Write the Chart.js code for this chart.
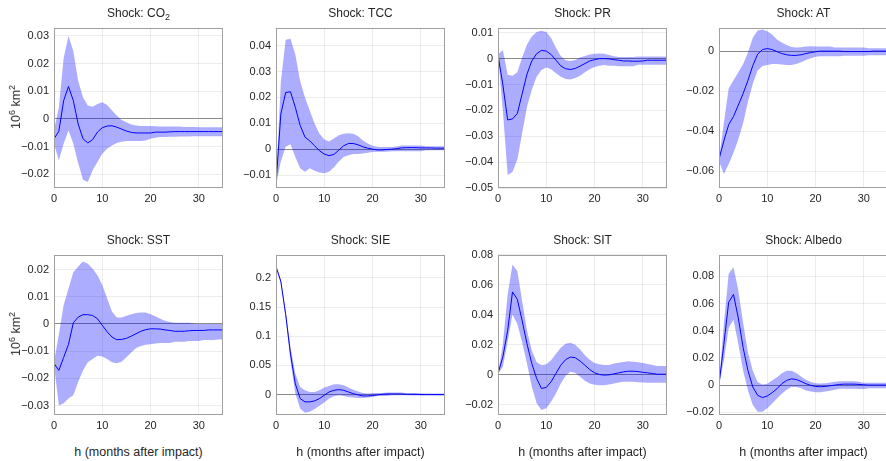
<!DOCTYPE html>
<html lang="en">
<head>
<meta charset="UTF-8">
<script src="https://cdn.jsdelivr.net/npm/chart.js"></script>
<title>Impulse responses</title>
<style>
    body { margin: 0; width: 886px; height: 461px; overflow: hidden; background: #fff; font-family: "Liberation Sans", Arial, sans-serif; color: #262626; }
    canvas { position: absolute; }
    .title { position: absolute; width: 169px; text-align: center; font-size: 12px; color: #262626; }
    .ylab { position: absolute; font-size: 12.5px; color: #262626; transform: translate(-50%, -50%) rotate(-90deg); white-space: nowrap; }
    .xlab { position: absolute; width: 169px; text-align: center; font-size: 12.5px; color: #262626; }
</style>
</head>
<body>
<div id="wrap"></div>

<script>
// horizon in months
const h = [];
for (let i = 0; i <= 35; i++) h.push(i);

const titles = ['Shock: CO<sub style="font-size:9px">2</sub>', 'Shock: TCC', 'Shock: PR', 'Shock: AT',
                'Shock: SST', 'Shock: SIE', 'Shock: SIT', 'Shock: Albedo'];

// y axis ranges and tick steps
const yMin  = [-0.025, -0.015, -0.05, -0.0685, -0.0335, -0.035, -0.027, -0.022];
const yMax  = [0.033, 0.047, 0.012, 0.0118, 0.0255, 0.24, 0.08, 0.096];
const yStep = [0.01, 0.01, 0.01, 0.02, 0.01, 0.05, 0.02, 0.02];

// CO2
const co2Mean = [-0.0072, -0.0045, 0.0066, 0.0117, 0.0066, -0.0018, -0.0072, -0.0087, -0.0075, -0.0048, -0.0032, -0.0026, -0.0025, -0.003, -0.0037, -0.0044, -0.0049, -0.0051, -0.0051, -0.0051, -0.0051, -0.0048, -0.0048, -0.0048, -0.0047, -0.0046, -0.0046, -0.0046, -0.0046, -0.0046, -0.0046, -0.0046, -0.0046, -0.0046, -0.0046, -0.0046];
const co2Up   = [-0.004, 0.004, 0.022, 0.030, 0.0245, 0.0138, 0.0078, 0.0048, 0.0044, 0.0054, 0.006, 0.005, 0.003, 0.0012, -0.0004, -0.0012, -0.002, -0.0024, -0.0026, -0.0026, -0.0026, -0.0027, -0.0028, -0.0028, -0.0028, -0.0028, -0.0028, -0.0029, -0.0029, -0.0029, -0.003, -0.003, -0.003, -0.003, -0.003, -0.003];
const co2Lo   = [-0.009, -0.015, -0.009, -0.0042, -0.009, -0.016, -0.022, -0.0228, -0.0186, -0.0156, -0.0126, -0.0108, -0.0096, -0.0087, -0.0083, -0.008, -0.008, -0.008, -0.008, -0.0078, -0.0072, -0.0068, -0.0066, -0.0066, -0.0065, -0.0065, -0.0064, -0.0064, -0.0064, -0.0063, -0.0063, -0.0063, -0.0063, -0.0063, -0.0063, -0.0063];

// TCC
const tccMean = [-0.0135, 0.0136, 0.0219, 0.0222, 0.0162, 0.0092, 0.0047, 0.0032, 0.0013, -0.0006, -0.0019, -0.0025, -0.002, -0.0004, 0.0013, 0.0022, 0.0022, 0.0017, 0.0009, 0.0004, 0, -0.0003, -0.0003, -0.0001, 0, 0.0002, 0.0005, 0.0006, 0.0006, 0.0006, 0.0005, 0.0005, 0.0005, 0.0004, 0.0004, 0.0004];
const tccUp   = [-0.013, 0.026, 0.0423, 0.0427, 0.0366, 0.0264, 0.02, 0.0149, 0.0098, 0.006, 0.0037, 0.003, 0.0041, 0.0054, 0.006, 0.0062, 0.006, 0.005, 0.0034, 0.0022, 0.0013, 0.0009, 0.0008, 0.0008, 0.0008, 0.001, 0.0014, 0.0014, 0.0014, 0.0014, 0.0014, 0.0011, 0.0011, 0.0011, 0.0011, 0.0011];
const tccLo   = [-0.014, -0.0048, 0.0009, 0.0019, -0.003, -0.0074, -0.0087, -0.0074, -0.0083, -0.009, -0.0093, -0.0087, -0.007, -0.0048, -0.003, -0.0023, -0.0019, -0.0019, -0.0017, -0.0014, -0.0011, -0.001, -0.001, -0.001, -0.0008, -0.0008, -0.0008, -0.0008, -0.0008, -0.0008, -0.0008, -0.0004, -0.0004, -0.0004, -0.0004, -0.0004];

// PR
const prMean = [0.0014, -0.010, -0.0237, -0.0233, -0.0212, -0.0136, -0.006, -0.0009, 0.0019, 0.0032, 0.0029, 0.0016, -0.0006, -0.0028, -0.0039, -0.0042, -0.0038, -0.0029, -0.0019, -0.0009, -0.0004, 0, 0, -0.0001, -0.0004, -0.0006, -0.0009, -0.0009, -0.001, -0.001, -0.0009, -0.0006, -0.0006, -0.0006, -0.0006, -0.0006];
const prUp   = [0.0016, 0.0033, -0.0062, -0.0066, -0.0053, 0.0004, 0.0055, 0.0086, 0.0103, 0.0108, 0.0103, 0.008, 0.0042, 0.001, -0.0006, -0.0009, -0.0005, 0.0004, 0.001, 0.0016, 0.0019, 0.002, 0.0019, 0.0014, 0.0009, 0.0006, 0.0006, 0.0006, 0.0006, 0.0008, 0.0008, 0.0008, 0.0008, 0.0008, 0.0008, 0.0008];
const prLo   = [0.001, -0.02, -0.045, -0.0438, -0.039, -0.0288, -0.0187, -0.012, -0.007, -0.0044, -0.0034, -0.0041, -0.0056, -0.007, -0.0079, -0.0081, -0.0075, -0.0066, -0.0053, -0.0041, -0.0032, -0.0027, -0.0025, -0.0027, -0.0027, -0.0029, -0.0029, -0.0029, -0.0029, -0.0024, -0.0024, -0.0024, -0.0024, -0.0024, -0.0024, -0.0024];

// AT
const atMean = [-0.0541, -0.045, -0.0368, -0.0327, -0.027, -0.0212, -0.0146, -0.0072, -0.0015, 0.0008, 0.0013, 0.0008, -0.0002, -0.0012, -0.0018, -0.0021, -0.0021, -0.0018, -0.0012, -0.0007, -0.0003, 0, 0, 0, 0, 0, -0.0002, -0.0002, -0.0002, -0.0002, -0.0002, -0.0002, 0, 0, 0, 0];
const atUp   = [-0.054, -0.036, -0.0187, -0.0146, -0.0105, -0.0064, -0.0007, 0.0067, 0.0104, 0.0109, 0.01, 0.0084, 0.0059, 0.0043, 0.0031, 0.0021, 0.0018, 0.002, 0.0023, 0.0025, 0.0023, 0.0023, 0.0023, 0.0023, 0.0018, 0.0018, 0.0018, 0.0018, 0.0018, 0.0018, 0.0018, 0.0015, 0.0015, 0.0015, 0.0015, 0.0015];
const atLo   = [-0.055, -0.0615, -0.0566, -0.0508, -0.0442, -0.036, -0.0253, -0.0163, -0.0097, -0.0074, -0.0069, -0.0064, -0.0064, -0.0067, -0.0069, -0.0069, -0.0064, -0.0056, -0.0044, -0.0035, -0.0028, -0.0025, -0.0025, -0.0025, -0.0025, -0.0025, -0.0023, -0.0023, -0.0023, -0.0023, -0.0023, -0.002, -0.002, -0.002, -0.002, -0.002];

// SST
const sstMean = [-0.0145, -0.0171, -0.0123, -0.0075, 0.0004, 0.0025, 0.0034, 0.0034, 0.0031, 0.0019, -0.0005, -0.0029, -0.0048, -0.0058, -0.0057, -0.0053, -0.0045, -0.0036, -0.0027, -0.0021, -0.0018, -0.0018, -0.0019, -0.0022, -0.0024, -0.0027, -0.0027, -0.0027, -0.0025, -0.0024, -0.0024, -0.0024, -0.0022, -0.0022, -0.0022, -0.0022];
const sstUp   = [-0.014, -0.004, 0.007, 0.013, 0.019, 0.0211, 0.023, 0.0221, 0.0203, 0.0179, 0.0143, 0.0094, 0.0046, 0.0024, 0.0024, 0.003, 0.0036, 0.004, 0.0042, 0.0042, 0.0036, 0.0028, 0.0019, 0.0012, 0.0007, 0.0004, 0.0004, 0.0004, 0.0004, 0.0001, 0, 0, 0, 0, 0, 0];
const sstLo   = [-0.015, -0.030, -0.0292, -0.0274, -0.0262, -0.0214, -0.0171, -0.0141, -0.0129, -0.0117, -0.012, -0.0129, -0.0141, -0.0145, -0.0139, -0.0123, -0.0105, -0.0089, -0.0081, -0.0077, -0.0075, -0.0072, -0.007, -0.007, -0.007, -0.0066, -0.0066, -0.0066, -0.0063, -0.0063, -0.0063, -0.0059, -0.0059, -0.0059, -0.0057, -0.0057];

// SIE
const sieMean = [0.2197, 0.194, 0.1376, 0.0696, 0.0187, -0.0068, -0.0125, -0.0125, -0.0108, -0.0068, -0.0011, 0.0045, 0.0074, 0.0085, 0.0074, 0.0045, 0.0017, -0.0006, -0.0023, -0.0023, -0.0017, -0.0006, 0.0006, 0.0011, 0.0011, 0.0011, 0.0011, 0.0006, 0.0006, 0.0006, 0, 0, 0, 0, 0, 0];
const sieUp   = [0.22, 0.197, 0.143, 0.081, 0.036, 0.013, 0.0074, 0.0045, 0.0045, 0.0074, 0.012, 0.0147, 0.0176, 0.0176, 0.0159, 0.012, 0.0085, 0.0051, 0.0028, 0.0017, 0.0028, 0.0028, 0.0028, 0.0034, 0.0034, 0.0034, 0.0034, 0.0023, 0.0023, 0.0023, 0.0023, 0.0017, 0.0017, 0.0017, 0.0017, 0.0017];
const sieLo   = [0.218, 0.191, 0.132, 0.058, 0.0017, -0.0238, -0.0311, -0.0294, -0.0249, -0.0192, -0.0136, -0.0068, -0.0028, -0.0011, -0.0023, -0.004, -0.0051, -0.0057, -0.0057, -0.0051, -0.004, -0.0023, -0.0023, -0.0023, -0.0011, -0.0011, -0.0011, -0.0011, -0.0017, -0.0017, -0.0017, -0.0017, -0.0017, -0.0017, -0.0017, -0.0017];

// SIT
const sitMean = [0.0007, 0.0117, 0.0293, 0.0551, 0.0502, 0.0359, 0.0205, 0.0073, -0.0026, -0.0093, -0.0086, -0.0048, 0.0007, 0.0062, 0.0099, 0.0117, 0.0112, 0.009, 0.0062, 0.0033, 0.0011, 0, -0.0004, -0.0002, 0.0004, 0.0011, 0.0018, 0.0022, 0.0022, 0.002, 0.0015, 0.0011, 0.0007, 0.0002, 0.0002, 0.0002];
const sitUp   = [0.001, 0.02, 0.0535, 0.0734, 0.069, 0.0491, 0.0293, 0.0161, 0.0084, 0.0062, 0.0068, 0.0095, 0.0139, 0.0178, 0.0205, 0.0212, 0.0198, 0.0167, 0.0128, 0.0099, 0.0077, 0.0068, 0.0064, 0.0064, 0.0073, 0.0079, 0.0084, 0.0088, 0.0086, 0.0082, 0.0077, 0.0071, 0.0064, 0.0057, 0.0057, 0.0057];
const sitLo   = [0.0005, 0.005, 0.022, 0.040, 0.0337, 0.0216, 0.0073, -0.0082, -0.0192, -0.0236, -0.0225, -0.0181, -0.0126, -0.006, -0.0009, 0.0018, 0.0011, -0.0015, -0.0042, -0.006, -0.0068, -0.0071, -0.0071, -0.0066, -0.006, -0.0053, -0.0048, -0.0048, -0.0048, -0.0051, -0.0053, -0.0055, -0.0055, -0.0055, -0.0055, -0.0055];

// Albedo
const albMean = [0.0005, 0.030, 0.0609, 0.0667, 0.0493, 0.0275, 0.0106, -0.0014, -0.0075, -0.0092, -0.008, -0.0056, -0.0027, 0.001, 0.0034, 0.0046, 0.0041, 0.0027, 0.001, -0.0002, -0.001, -0.0012, -0.001, -0.0005, 0, 0.0005, 0.0007, 0.0007, 0.0007, 0.0005, 0.0002, 0, 0, 0, 0, 0];
const albUp   = [0.001, 0.045, 0.082, 0.0867, 0.0698, 0.0457, 0.0239, 0.0106, 0.0022, 0.0005, 0.001, 0.0034, 0.0058, 0.0087, 0.0106, 0.0106, 0.0089, 0.0063, 0.0039, 0.0022, 0.0014, 0.0012, 0.0014, 0.0019, 0.0024, 0.0029, 0.0029, 0.0029, 0.0029, 0.0024, 0.0017, 0.0017, 0.0017, 0.0017, 0.0017, 0.0017];
const albLo   = [0, 0.018, 0.042, 0.048, 0.030, 0.0106, -0.0039, -0.0147, -0.0196, -0.0196, -0.0171, -0.0135, -0.0099, -0.0063, -0.0034, -0.0014, -0.0014, -0.0024, -0.0039, -0.0048, -0.0053, -0.0053, -0.0048, -0.0041, -0.0034, -0.0027, -0.0027, -0.0027, -0.0027, -0.0029, -0.0029, -0.0024, -0.0024, -0.0024, -0.0024, -0.0024];

const means  = [co2Mean, tccMean, prMean, atMean, sstMean, sieMean, sitMean, albMean];
const uppers = [co2Up, tccUp, prUp, atUp, sstUp, sieUp, sitUp, albUp];
const lowers = [co2Lo, tccLo, prLo, atLo, sstLo, sieLo, sitLo, albLo];

// plot area placement (pixels)
const plotLeft = [54, 276, 498, 719];
const plotTop = [26, 253];
const plotW = 169, plotH = 162;
const padL = 50, padT = 10, padR = 10, padB = 22;

const wrap = document.getElementById('wrap');

// grey frame round the plot area
const boxPlugin = {
    id: 'box',
    afterDraw(chart) {
        const a = chart.chartArea, c = chart.ctx;
        c.save();
        c.strokeStyle = '#a0a0a0';
        c.lineWidth = 1;
        c.strokeRect(Math.round(a.left) + 0.5, Math.round(a.top) + 0.5, Math.round(a.right - a.left) - 1, Math.round(a.bottom - a.top) - 1);
        c.restore();
    }
};

// matlab style labels, wide minus sign
function fmt(v) {
    return String(parseFloat(v.toFixed(4))).replace('-', '\u2212');
}

for (let i = 0; i < 8; i++) {
    const col = i % 4, row = Math.floor(i / 4);
    const L = plotLeft[col], T = plotTop[row];

    const cv = document.createElement('canvas');
    cv.width = padL + plotW + padR;
    cv.height = padT + plotH + padB;
    cv.style.left = (L - padL) + 'px';
    cv.style.top = (T - padT) + 'px';
    wrap.appendChild(cv);

    const t = document.createElement('div');
    t.className = 'title';
    t.innerHTML = titles[i];
    t.style.left = L + 'px';
    t.style.top = (T - 20) + 'px';
    wrap.appendChild(t);

    if (col === 0) {
        const yl = document.createElement('div');
        yl.className = 'ylab';
        yl.innerHTML = '10<sup style="font-size:9px">6</sup> km<sup style="font-size:9px">2</sup>';
        yl.style.left = '15px';
        yl.style.top = (T + plotH / 2) + 'px';
        wrap.appendChild(yl);
    }
    if (row === 1) {
        const xl = document.createElement('div');
        xl.className = 'xlab';
        xl.textContent = 'h (months after impact)';
        xl.style.left = L + 'px';
        xl.style.top = '445px';
        wrap.appendChild(xl);
    }

    const pts = arr => h.map((x, k) => ({ x: x, y: arr[k] }));

    new Chart(cv.getContext('2d'), {
        type: 'line',
        data: {
            datasets: [
                { data: pts(uppers[i]), borderWidth: 0, pointRadius: 0, fill: '+1', backgroundColor: 'rgba(0,0,255,0.32)', borderColor: 'rgba(0,0,0,0)' },
                { data: pts(lowers[i]), borderWidth: 0, pointRadius: 0, fill: false, borderColor: 'rgba(0,0,0,0)' },
                { data: pts(means[i]), borderWidth: 1, pointRadius: 0, fill: false, borderColor: '#0000ff' }
            ]
        },
        options: {
            responsive: false,
            animation: false,
            devicePixelRatio: 1,
            layout: { padding: { top: padT, right: padR, left: 0, bottom: 0 } },
            plugins: { legend: { display: false }, tooltip: { enabled: false } },
            scales: {
                x: {
                    type: 'linear', min: 0, max: 35,
                    afterFit: s => { s.height = padB; },
                    ticks: { stepSize: 10, includeBounds: false, padding: 4, color: '#262626', font: { family: 'Liberation Sans', size: 11 }, maxRotation: 0 },
                    grid: { color: 'rgba(0,0,0,0.07)', drawTicks: false },
                    border: { display: false }
                },
                y: {
                    min: yMin[i], max: yMax[i],
                    afterFit: s => { s.width = padL; },
                    ticks: { stepSize: yStep[i], includeBounds: false, padding: 5, color: '#262626', font: { family: 'Liberation Sans', size: 11 }, callback: v => fmt(v) },
                    grid: {
                        color: c => Math.abs(c.tick.value) < 1e-9 ? '#8a8a8a' : 'rgba(0,0,0,0.07)',
                        drawTicks: false
                    },
                    border: { display: false }
                }
            }
        },
        plugins: [boxPlugin]
    });
}
</script>
</body>
</html>
